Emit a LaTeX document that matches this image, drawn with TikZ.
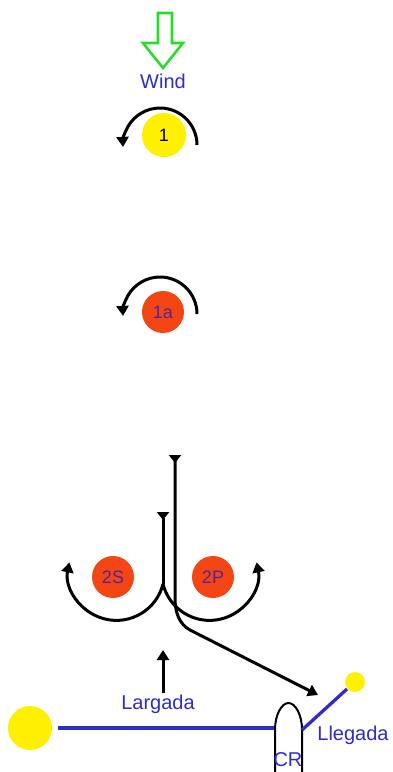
\documentclass[tikz,border=0pt]{standalone}
\usepackage{fontspec}
\setmainfont{Liberation Sans}
\usetikzlibrary{arrows.meta}
\definecolor{windgreen}{RGB}{40,220,40}
\definecolor{lblue}{RGB}{45,45,200}
\definecolor{mred}{RGB}{244,70,20}
\definecolor{myel}{RGB}{255,240,0}
\definecolor{mtext}{RGB}{85,35,150}
\begin{document}
\begin{tikzpicture}[x=1pt,y=-1pt,
  lbl/.style={text=lblue,font=\fontsize{20}{24}\selectfont,inner sep=0pt},
  yelmark/.style={circle,fill=myel,draw=none,inner sep=0pt},
  redmark/.style={circle,fill=mred,draw=none,minimum size=42pt,inner sep=0pt,text=mtext,font=\fontsize{18}{20}\selectfont},
  blk/.style={draw=black,line width=3pt},
  tipA/.style={-{Triangle[width=12pt,length=10pt]}},
  flag/.style={{Triangle[reversed,width=12pt,length=8pt]}-},
  flagtip/.style={{Triangle[reversed,width=12pt,length=8pt]}-{Triangle[width=12pt,length=10pt]}},
  blueline/.style={draw=lblue,line width=3.3pt}]
\useasboundingbox (0,0) rectangle (393,772);
% wind arrow
\draw[windgreen,line width=2.6pt,line join=miter]
  (158,13) -- (172,13) -- (172,43) -- (183,43) -- (163,68) -- (143,43) -- (158,43) -- cycle;
\node[lbl] (wind) at (163,81) {Wind};
% mark 1
\node[yelmark,minimum size=44pt,text=black!75!blue,font=\fontsize{18}{20}\selectfont] (m1) at (164,135) {1};
\draw[blk,tipA] (197,145) arc[start angle=0,end angle=-183,radius=37];
% mark 1a
\node[redmark] (m1a) at (163,312) {1a};
\draw[blk,tipA] (197,314) arc[start angle=0,end angle=-183,radius=37];
% gate
\node[redmark] (m2s) at (113,577) {2S};
\node[redmark] (m2p) at (213,577) {2P};
\coordinate (shtop) at (163,512);
\coordinate (shbot) at (163,584);
\coordinate (lgtop) at (175,455);
\coordinate (fin) at (318,695);
\draw[blk,flag] (shtop) -- (shbot);
\draw[blk,tipA] (shbot) arc[start angle=14,end angle=192,radius=48];
\draw[blk,tipA] (shbot) arc[start angle=166,end angle=-12,radius=48];
\draw[blk,flagtip] (lgtop) -- (175,598) .. controls (175,612) and (179,624) .. (190,630) -- (fin);
% start line
\node[yelmark,minimum size=44pt] (pin) at (30,728) {};
\coordinate (boatL) at (275,728);
\draw[blueline] (58,728) -- (boatL);
\coordinate (upbot) at (163,693);
\coordinate (uptop) at (163,650);
\draw[blk,tipA] (upbot) -- (uptop);
\node[lbl] (largada) at (158,704) {Largada};
% committee boat
\draw[black,line width=2pt] (275,775) -- (275,730) .. controls (275,714) and (282,703) .. (288.5,703) .. controls (295,703) and (302,714) .. (302,730) -- (302,775);
\node[lbl] (cr) at (288,760) {CR};
% finish line
\node[yelmark,minimum size=20pt] (fmark) at (355,682) {};
\draw[blueline] (302,730) -- (347,689);
\node[lbl] (llegada) at (353,735) {Llegada};
\end{tikzpicture}
\end{document}
